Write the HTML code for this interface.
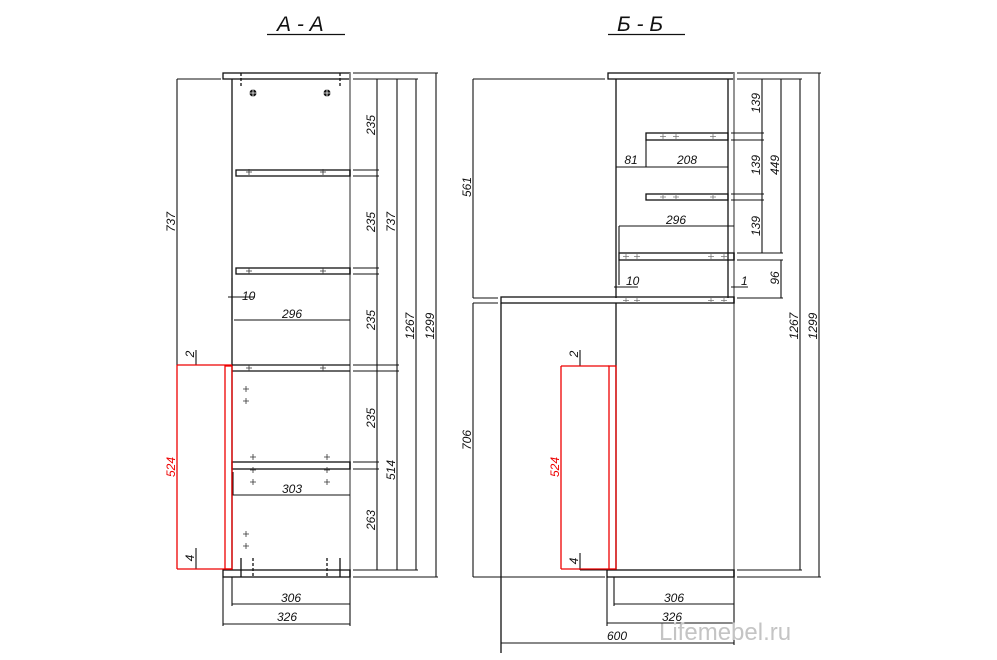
<!DOCTYPE html>
<html><head><meta charset="utf-8"><style>
html,body{margin:0;padding:0;background:#fff;}
svg{display:block;}
text{font-family:"Liberation Sans",sans-serif;font-style:italic;font-size:12px;fill:#111;}
.t{font-size:21px;font-style:italic;}
.r{fill:#e00;}
</style></head><body>
<svg width="997" height="660" viewBox="0 0 997 660" xmlns="http://www.w3.org/2000/svg">
<g stroke="#111" stroke-width="1.3" fill="none">
<line x1="267" y1="34.5" x2="345" y2="34.5"/>
<line x1="608" y1="34.5" x2="685" y2="34.5"/>

<rect x="223" y="73" width="127" height="6"/>
<line x1="232" y1="79" x2="232" y2="570"/>
<line x1="350" y1="73" x2="350" y2="578" stroke="#888" stroke-width="1.8"/>
<line x1="241" y1="73" x2="241" y2="86" stroke-dasharray="3,2"/>
<line x1="340" y1="73" x2="340" y2="86" stroke-dasharray="3,2"/>
<rect x="236" y="170" width="114" height="6"/>
<rect x="236" y="268" width="114" height="6"/>
<line x1="232" y1="365" x2="350" y2="365"/><line x1="232" y1="371" x2="350" y2="371"/>
<rect x="232" y="462" width="118" height="7"/>
<rect x="223" y="570" width="127" height="7"/>
<line x1="241" y1="558" x2="241" y2="577"/><line x1="340" y1="558" x2="340" y2="577"/>
<line x1="253" y1="558" x2="253" y2="577" stroke-dasharray="3,2"/><line x1="327" y1="558" x2="327" y2="577" stroke-dasharray="3,2"/>
<g stroke-width="1.1">
<line x1="353" y1="79" x2="418" y2="79"/><line x1="353" y1="73" x2="438" y2="73"/>
<line x1="353" y1="170" x2="379" y2="170"/><line x1="353" y1="176" x2="379" y2="176"/>
<line x1="353" y1="268" x2="379" y2="268"/><line x1="353" y1="274" x2="379" y2="274"/>
<line x1="353" y1="365" x2="399" y2="365"/><line x1="353" y1="371" x2="399" y2="371"/>
<line x1="353" y1="462" x2="379" y2="462"/><line x1="353" y1="469" x2="379" y2="469"/>
<line x1="353" y1="570" x2="418" y2="570"/><line x1="353" y1="577" x2="438" y2="577"/>
<line x1="377" y1="79" x2="377" y2="570"/>
<line x1="397" y1="79" x2="397" y2="570"/>
<line x1="416" y1="79" x2="416" y2="570"/>
<line x1="436" y1="73" x2="436" y2="577"/>
<line x1="177" y1="79" x2="221" y2="79"/>
<line x1="177" y1="79" x2="177" y2="365"/>
<line x1="196" y1="350" x2="196" y2="365"/>
<line x1="196" y1="548" x2="196" y2="569"/>
<line x1="196" y1="569" x2="222" y2="569"/>
<line x1="228" y1="297" x2="255" y2="297"/>
<line x1="232" y1="278" x2="232" y2="320"/>
<line x1="234" y1="320" x2="350" y2="320"/>
<line x1="232" y1="495" x2="350" y2="495"/>
<line x1="233" y1="472" x2="233" y2="495"/>
<line x1="223" y1="577" x2="223" y2="626"/>
<line x1="232" y1="577" x2="232" y2="606"/>
<line x1="350" y1="578" x2="350" y2="626"/>
<line x1="232" y1="604" x2="350" y2="604"/>
<line x1="223" y1="624" x2="350" y2="624"/>
</g>
<g stroke="#e00" stroke-width="1.3">
<line x1="177" y1="365" x2="232" y2="365"/>
<line x1="177" y1="569" x2="232" y2="569"/>
<line x1="177" y1="365" x2="177" y2="569"/>
<rect x="225" y="366" width="7" height="203"/>
</g>

<rect x="608" y="73" width="126" height="6"/>
<line x1="734" y1="73" x2="734" y2="578" stroke="#888" stroke-width="1.8"/>
<line x1="616" y1="79" x2="616" y2="298"/>
<line x1="728" y1="79" x2="728" y2="298"/>
<rect x="646" y="133" width="82" height="7"/>
<rect x="646" y="194" width="82" height="6"/>
<rect x="619" y="253" width="115" height="7"/>
<rect x="501" y="297" width="233" height="6"/>
<line x1="501" y1="303" x2="501" y2="653"/>
<line x1="616" y1="303" x2="616" y2="570"/>
<rect x="607" y="570" width="127" height="7"/>
<g stroke-width="1.1">
<line x1="473" y1="79" x2="605" y2="79"/>
<line x1="473" y1="79" x2="473" y2="298"/>
<line x1="473" y1="298" x2="498" y2="298"/>
<line x1="473" y1="303" x2="498" y2="303"/>
<line x1="473" y1="303" x2="473" y2="577"/>
<line x1="473" y1="577" x2="605" y2="577"/>
<line x1="737" y1="73" x2="821" y2="73"/>
<line x1="737" y1="79" x2="802" y2="79"/>
<line x1="731" y1="133" x2="764" y2="133"/><line x1="731" y1="140" x2="764" y2="140"/>
<line x1="731" y1="194" x2="764" y2="194"/><line x1="731" y1="200" x2="764" y2="200"/>
<line x1="737" y1="253" x2="783" y2="253"/><line x1="737" y1="260" x2="783" y2="260"/>
<line x1="737" y1="298" x2="783" y2="298"/>
<line x1="737" y1="570" x2="802" y2="570"/><line x1="737" y1="577" x2="821" y2="577"/>
<line x1="762" y1="79" x2="762" y2="253"/>
<line x1="781" y1="79" x2="781" y2="253"/>
<line x1="781" y1="260" x2="781" y2="298"/>
<line x1="800" y1="79" x2="800" y2="570"/>
<line x1="819" y1="73" x2="819" y2="577"/>
<line x1="646" y1="140" x2="646" y2="167"/>
<line x1="616" y1="167" x2="728" y2="167"/>
<line x1="619" y1="226" x2="734" y2="226"/>
<line x1="619" y1="226" x2="619" y2="253"/>
<line x1="619" y1="260" x2="619" y2="285"/>
<line x1="614" y1="287" x2="638" y2="287"/>
<line x1="731" y1="287" x2="748" y2="287"/>
<line x1="607" y1="577" x2="607" y2="626"/>
<line x1="614" y1="577" x2="614" y2="606"/>
<line x1="734" y1="578" x2="734" y2="645"/>
<line x1="614" y1="604" x2="734" y2="604"/>
<line x1="607" y1="623" x2="734" y2="623"/>
<line x1="501" y1="643" x2="734" y2="643"/>
<line x1="580" y1="350" x2="580" y2="366"/>
<line x1="580" y1="366" x2="610" y2="366"/>
<line x1="580" y1="553" x2="580" y2="570"/>
<line x1="580" y1="570" x2="607" y2="570"/>
</g>
<g stroke="#e00" stroke-width="1.3">
<line x1="561" y1="366" x2="609" y2="366"/>
<line x1="561" y1="569" x2="609" y2="569"/>
<line x1="561" y1="366" x2="561" y2="569"/>
<rect x="609" y="366" width="7" height="203"/>
</g>
</g>
<g stroke="#333" stroke-width="0.8">
<path d="M249,169v6M246,172h6 M323,169v6M320,172h6 M249,268v6M246,271h6 M323,268v6M320,271h6 M249,365v6M246,368h6 M323,365v6M320,368h6
M246,386v6M243,389h6 M246,398v6M243,401h6 M253,454v6M250,457h6 M327,454v6M324,457h6 M253,467v6M250,470h6 M327,467v6M324,470h6 M253,479v6M250,482h6 M327,479v6M324,482h6 M246,531v6M243,534h6 M246,543v6M243,546h6"/>
</g>
<g stroke="#777" stroke-width="0.8">
<path d="M663,134v5M660,136.5h6 M676,134v5M673,136.5h6 M713,134v5M710,136.5h6 M663,194v5M660,197h6 M676,194v5M673,197h6 M713,194v5M710,197h6
M626,254v5M623,256.5h6 M637,254v5M634,256.5h6 M711,254v5M708,256.5h6 M724,254v5M721,256.5h6
M626,298v5M623,300.5h6 M637,298v5M634,300.5h6 M711,298v5M708,300.5h6 M724,298v5M721,300.5h6"/>
</g>
<circle cx="253" cy="93" r="3.5" fill="#111"/><circle cx="327" cy="93" r="3.5" fill="#111"/>
<path d="M253,89v8M249,93h8" stroke="#fff" stroke-width="0.8"/><path d="M327,89v8M323,93h8" stroke="#fff" stroke-width="0.8"/>

<text class="t" x="277" y="31">А - А</text>
<text class="t" x="617" y="31">Б - Б</text>
<g>
<text transform="translate(375,125) rotate(-90)" text-anchor="middle">235</text>
<text transform="translate(375,222) rotate(-90)" text-anchor="middle">235</text>
<text transform="translate(375,320) rotate(-90)" text-anchor="middle">235</text>
<text transform="translate(375,418) rotate(-90)" text-anchor="middle">235</text>
<text transform="translate(375,520) rotate(-90)" text-anchor="middle">263</text>
<text transform="translate(395,222) rotate(-90)" text-anchor="middle">737</text>
<text transform="translate(395,470) rotate(-90)" text-anchor="middle">514</text>
<text transform="translate(414,326) rotate(-90)" text-anchor="middle">1267</text>
<text transform="translate(434,326) rotate(-90)" text-anchor="middle">1299</text>
<text transform="translate(175,222) rotate(-90)" text-anchor="middle">737</text>
<text transform="translate(194,354) rotate(-90)" text-anchor="middle">2</text>
<text transform="translate(194,558) rotate(-90)" text-anchor="middle">4</text>
<text class="r" transform="translate(175,467) rotate(-90)" text-anchor="middle">524</text>
<text x="242" y="300">10</text>
<text x="292" y="318" text-anchor="middle">296</text>
<text x="292" y="493" text-anchor="middle">303</text>
<text x="291" y="602" text-anchor="middle">306</text>
<text x="287" y="621" text-anchor="middle">326</text>

<text transform="translate(760,103) rotate(-90)" text-anchor="middle">139</text>
<text transform="translate(760,165) rotate(-90)" text-anchor="middle">139</text>
<text transform="translate(760,226) rotate(-90)" text-anchor="middle">139</text>
<text transform="translate(779,165) rotate(-90)" text-anchor="middle">449</text>
<text transform="translate(779,278) rotate(-90)" text-anchor="middle">96</text>
<text transform="translate(798,326) rotate(-90)" text-anchor="middle">1267</text>
<text transform="translate(817,326) rotate(-90)" text-anchor="middle">1299</text>
<text transform="translate(471,187) rotate(-90)" text-anchor="middle">561</text>
<text transform="translate(471,440) rotate(-90)" text-anchor="middle">706</text>
<text transform="translate(578,354) rotate(-90)" text-anchor="middle">2</text>
<text transform="translate(578,561) rotate(-90)" text-anchor="middle">4</text>
<text class="r" transform="translate(559,467) rotate(-90)" text-anchor="middle">524</text>
<text x="631" y="164" text-anchor="middle">81</text>
<text x="687" y="164" text-anchor="middle">208</text>
<text x="676" y="224" text-anchor="middle">296</text>
<text x="626" y="285">10</text>
<text x="741" y="285">1</text>
<text x="674" y="602" text-anchor="middle">306</text>
<text x="672" y="621" text-anchor="middle">326</text>
<text x="617" y="640" text-anchor="middle">600</text>
</g>
<text x="659" y="640" style="font-style:normal;font-size:24px;fill:#c4c4c4">Lifemebel.ru</text>
</svg>
</body></html>
